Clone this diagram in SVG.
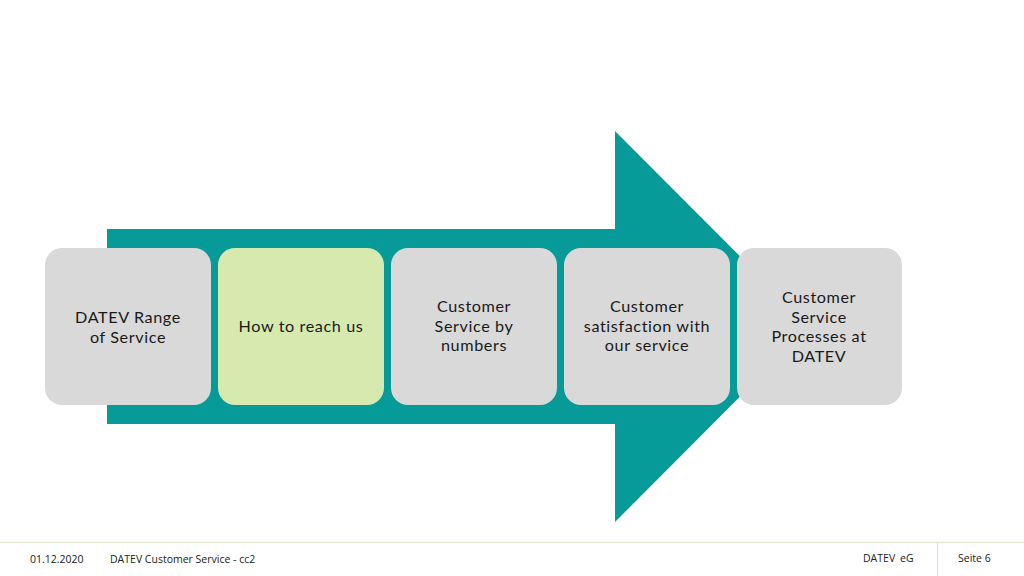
<svg xmlns="http://www.w3.org/2000/svg" width="1024" height="576" viewBox="0 0 1024 576">
<style>
.box{fill:#d9d9d9}
.hl{fill:#d6eaaf}
.t{font-family:Lato,"Open Sans",sans-serif;font-size:16.2px;letter-spacing:0.6px;fill:#1a1a1a;text-anchor:middle}
.f{font-family:"Open Sans","Noto Sans",sans-serif;font-size:10.5px;fill:#222}
</style>
<rect width="1024" height="576" fill="#ffffff"/>
<g id="arrow">
<path d="M107,229 H615 V131 L810,326.5 L615,522 V424 H107 Z" fill="#069b98"/>
</g>
<g id="connectors"></g>
<g id="node1"><rect class="box" x="45" y="248" width="166" height="157" rx="17"/>
<text class="t" y="323"><tspan x="128">DATEV Range</tspan><tspan x="128" dy="20">of Service</tspan></text></g>
<g id="node2"><rect class="hl" x="218" y="248" width="166" height="157" rx="17"/>
<text class="t" x="301" y="332">How to reach us</text></g>
<g id="node3"><rect class="box" x="391" y="248" width="166" height="157" rx="17"/>
<text class="t" y="312"><tspan x="474">Customer</tspan><tspan x="474" dy="19.6">Service by</tspan><tspan x="474" dy="19.6">numbers</tspan></text></g>
<g id="node4"><rect class="box" x="564" y="248" width="166" height="157" rx="17"/>
<text class="t" y="312"><tspan x="647">Customer</tspan><tspan x="647" dy="19.6">satisfaction with</tspan><tspan x="647" dy="19.6">our service</tspan></text></g>
<g id="node5"><rect class="box" x="737" y="248" width="165" height="157" rx="17"/>
<text class="t" y="303"><tspan x="819">Customer</tspan><tspan x="819" dy="19.6">Service</tspan><tspan x="819" dy="19.6">Processes at</tspan><tspan x="819" dy="19.6">DATEV</tspan></text></g>
<g id="footer">
<line x1="0" y1="542.5" x2="1024" y2="542.5" stroke="#e3ecd3" stroke-width="1.5"/>
<line x1="937.5" y1="542" x2="937.5" y2="576" stroke="#d7e6c0" stroke-width="1"/>
<text class="f" x="30" y="563">01.12.2020</text>
<text class="f" x="110" y="563">DATEV Customer Service - cc2</text>
<text class="f" y="562"><tspan x="863">DATEV</tspan><tspan x="900">eG</tspan></text>
<text class="f" x="958" y="562">Seite 6</text>
</g>
</svg>
